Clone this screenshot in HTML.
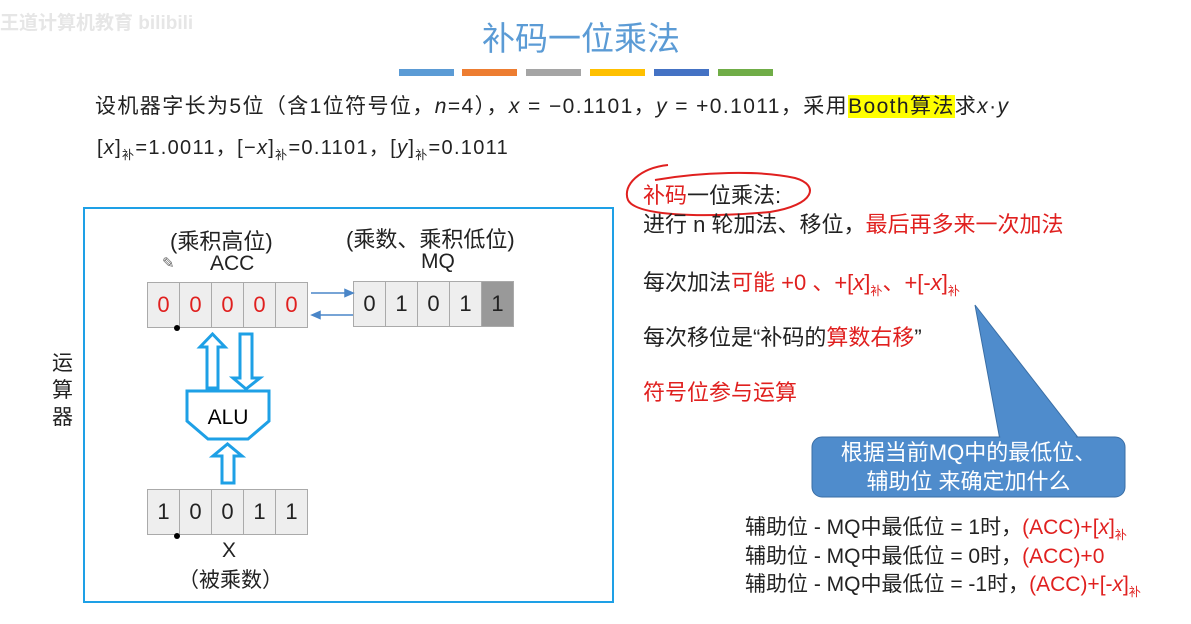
<!DOCTYPE html>
<html><head><meta charset="utf-8"><style>
body{margin:0;width:1191px;height:624px;background:#fff;position:relative;overflow:hidden;font-family:"Liberation Sans","Noto Sans CJK SC",sans-serif;color:#222}
.a{position:absolute;white-space:nowrap}
.r{color:#e0201f}
sub{font-size:12px;vertical-align:-5px}
.reg{position:absolute;display:flex;border:1.5px solid #aaa;background:#eee}
.reg div{width:31px;height:44px;border-right:1.5px solid #aaa;text-align:center;line-height:44px;font-size:22px}
.reg div:last-child{border-right:none}
.bar{position:absolute;top:69px;height:7px;width:55px}
</style></head><body>
<div class="a" style="left:0;top:8px;font-size:19px;color:#e6e6e6;font-weight:bold">王道计算机教育 bilibili</div>
<div class="a" style="left:482px;top:12px;font-size:33px;color:#5b9bd5">补码一位乘法</div>
<div class="bar" style="left:399px;background:#5b9bd5"></div>
<div class="bar" style="left:462px;background:#ed7d31"></div>
<div class="bar" style="left:526px;background:#a5a5a5"></div>
<div class="bar" style="left:590px;background:#ffc000"></div>
<div class="bar" style="left:654px;background:#4472c4"></div>
<div class="bar" style="left:718px;background:#70ad47"></div>
<div class="a" style="left:95px;top:90px;font-size:21px;letter-spacing:1.4px">设机器字长为5位（含1位符号位，<i>n</i>=4），<i>x</i> = −0.1101，<i>y</i> = +0.1011，采用<span style="background:#ffff00">Booth算法</span>求<i>x</i>·<i>y</i></div>
<div class="a" style="left:97px;top:131px;font-size:20px;letter-spacing:1.3px">[<i>x</i>]<sub>补</sub>=1.0011，[−<i>x</i>]<sub>补</sub>=0.1101，[<i>y</i>]<sub>补</sub>=0.1011</div>

<div style="position:absolute;left:83px;top:207px;width:527px;height:392px;border:2.5px solid #1ea0e6"></div>
<div class="a" style="left:52px;top:350px;font-size:21px;line-height:27px;width:22px;white-space:normal">运算器</div>
<div class="a" style="left:170px;top:224px;font-size:22px">(乘积高位)</div>
<div class="a" style="left:210px;top:252px;font-size:21px">ACC</div>
<div class="a" style="left:162px;top:254px;font-size:15px;color:#666">✎</div>
<div class="a" style="left:346px;top:222px;font-size:22px">(乘数、乘积低位)</div>
<div class="a" style="left:421px;top:250px;font-size:21px">MQ</div>
<div class="reg r" style="left:147px;top:282px"><div>0</div><div>0</div><div>0</div><div>0</div><div>0</div></div>
<div class="reg" style="left:353px;top:281px"><div>0</div><div>1</div><div>0</div><div>1</div><div style="background:#999">1</div></div>
<div class="reg" style="left:147px;top:489px"><div>1</div><div>0</div><div>0</div><div>1</div><div>1</div></div>
<div class="a" style="left:222px;top:539px;font-size:21px">X</div>
<div class="a" style="left:178px;top:564px;font-size:21px">（被乘数）</div>

<svg style="position:absolute;left:0;top:0" width="1191" height="624">
<circle cx="177" cy="328" r="3" fill="#000"/><circle cx="177" cy="536" r="3" fill="#000"/>
<g stroke="#4a86c8" stroke-width="1.5" fill="#4a86c8">
<line x1="311" y1="293" x2="347" y2="293"/><polygon points="353,293 345,289.5 345,296.5"/>
<line x1="319" y1="315" x2="353" y2="315"/><polygon points="312,315 320,311.5 320,318.5"/>
</g>
<g stroke="#1ea0e6" stroke-width="3" fill="#fff" stroke-linejoin="miter">
<polygon points="207,388 207,347 200,347 212.5,334 225,347 218,347 218,388"/>
<polygon points="240,334 252,334 252,378 260,378 246,389 233,378 240,378"/>
<polygon points="187,391 269,391 269,421 248,439 208,439 187,421"/>
<polygon points="222,483 222,456 213,456 227.5,444 242,456 234,456 234,483"/>
</g>
<text x="228" y="424" font-size="21" text-anchor="middle" font-family="Liberation Sans">ALU</text>
<path d="M668,165 C640,168 622,185 628,200 C636,216 700,218 770,212 C815,205 820,185 795,178 C760,170 700,172 655,180" stroke="#e0201f" stroke-width="2" fill="none"/>
<polygon points="975,305 1000,440 1080,440" fill="#4f8ccc" stroke="#3a6ea5" stroke-width="1"/>
<rect x="812" y="437" width="313" height="60" rx="10" fill="#4f8ccc" stroke="#3a6ea5" stroke-width="1"/>
<polygon points="976,307 1001,441 1079,441" fill="#4f8ccc"/>
</svg>
<div class="a" style="left:643px;top:178px;font-size:22px"><span class="r">补码</span>一位乘法:</div>
<div class="a" style="left:643px;top:207px;font-size:22px">进行 n 轮加法、移位，<span class="r">最后再多来一次加法</span></div>
<div class="a" style="left:643px;top:265px;font-size:22px">每次加法<span class="r">可能 +0 、+[<i>x</i>]<sub>补</sub>、+[-<i>x</i>]<sub>补</sub></span></div>
<div class="a" style="left:643px;top:320px;font-size:22px">每次移位是“补码的<span class="r">算数右移</span>”</div>
<div class="a r" style="left:643px;top:375px;font-size:22px">符号位参与运算</div>
<div class="a" style="left:812px;top:438px;width:313px;text-align:center;font-size:22px;line-height:29px;color:#fff">根据当前MQ中的最低位、<br>辅助位 来确定加什么</div>
<div class="a" style="left:745px;top:511px;font-size:21px">辅助位 - MQ中最低位 = 1时，<span class="r">(ACC)+[<i>x</i>]<sub>补</sub></span></div>
<div class="a" style="left:745px;top:540px;font-size:21px">辅助位 - MQ中最低位 = 0时，<span class="r">(ACC)+0</span></div>
<div class="a" style="left:745px;top:568px;font-size:21px">辅助位 - MQ中最低位 = -1时，<span class="r">(ACC)+[-<i>x</i>]<sub>补</sub></span></div>
</body></html>
